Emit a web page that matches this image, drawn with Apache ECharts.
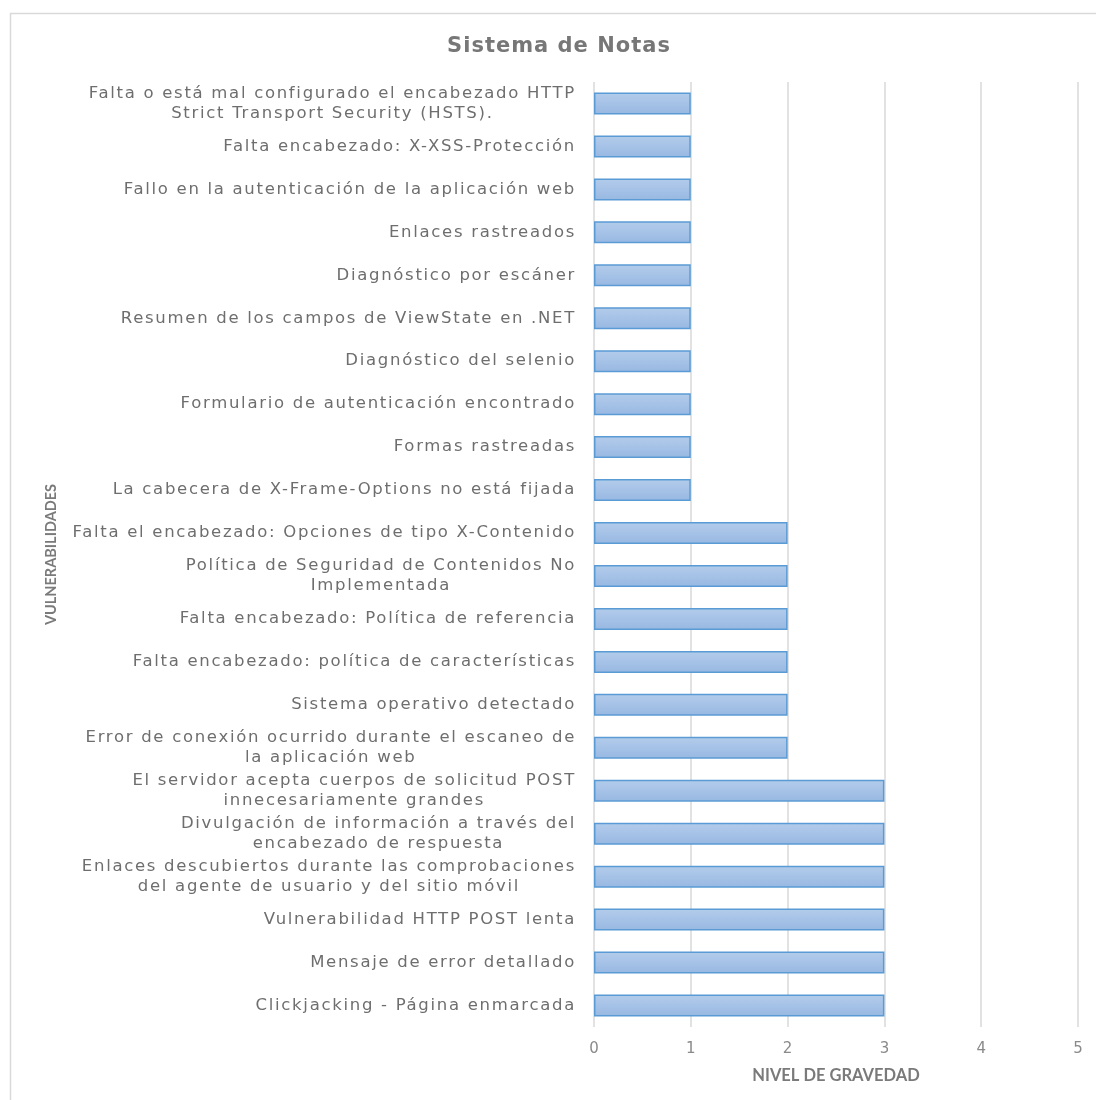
<!DOCTYPE html>
<html>
<head>
<meta charset="utf-8">
<style>
  html, body { margin: 0; padding: 0; background: #ffffff; }
  #chart { width: 1096px; height: 1100px; }
</style>
<script src="https://cdn.jsdelivr.net/npm/echarts@6/dist/echarts.min.js"></script>
</head>
<body>
<div id="chart"></div>
<script>
// Vulnerability names, listed top to bottom
const vulnerabilidades = [
  'Falta o está mal configurado el encabezado HTTP\nStrict Transport Security (HSTS).',
  'Falta encabezado: X-XSS-Protección',
  'Fallo en la autenticación de la aplicación web',
  'Enlaces rastreados',
  'Diagnóstico por escáner',
  'Resumen de los campos de ViewState en .NET',
  'Diagnóstico del selenio',
  'Formulario de autenticación encontrado',
  'Formas rastreadas',
  'La cabecera de X-Frame-Options no está fijada',
  'Falta el encabezado: Opciones de tipo X-Contenido',
  'Política de Seguridad de Contenidos No\nImplementada',
  'Falta encabezado: Política de referencia',
  'Falta encabezado: política de características',
  'Sistema operativo detectado',
  'Error de conexión ocurrido durante el escaneo de\nla aplicación web',
  'El servidor acepta cuerpos de solicitud POST\ninnecesariamente grandes',
  'Divulgación de información a través del\nencabezado de respuesta',
  'Enlaces descubiertos durante las comprobaciones\ndel agente de usuario y del sitio móvil',
  'Vulnerabilidad HTTP POST lenta',
  'Mensaje de error detallado',
  'Clickjacking - Página enmarcada'
];

// Severity level per vulnerability
const nivelGravedad = [1, 1, 1, 1, 1, 1, 1, 1, 1, 1, 2, 2, 2, 2, 2, 2, 3, 3, 3, 3, 3, 3];

const titulo = 'Sistema de Notas';
const nombreEjeX = 'NIVEL DE GRAVEDAD';
const nombreEjeY = 'VULNERABILIDADES';

const fuente = 'DejaVu Sans';
const fuenteEjes = 'Lato';
const tamCategoria = 16.5;
const tamTitulo = 21;

// Tracked-out text: category labels and title get extra letter spacing,
// applied whenever the canvas font is set (measuring and drawing alike).
(function () {
  const proto = CanvasRenderingContext2D.prototype;
  const desc = Object.getOwnPropertyDescriptor(proto, 'font');
  if (!desc || !('letterSpacing' in proto)) return;
  const espaciado = {};
  espaciado[tamCategoria] = '1.7px';
  espaciado[tamTitulo] = '1px';
  Object.defineProperty(proto, 'font', {
    configurable: true,
    get: function () { return desc.get.call(this); },
    set: function (v) {
      desc.set.call(this, v);
      const s = String(v);
      const m = s.match(/([\d.]+)px/);
      let sp = '0px';
      if (m && /DejaVu/.test(s) && espaciado[parseFloat(m[1])]) {
        sp = espaciado[parseFloat(m[1])];
      }
      this.letterSpacing = sp;
    }
  });
})();

const chart = echarts.init(document.getElementById('chart'), null, { renderer: 'canvas' });

const grisTexto = '#7a7a7a';

chart.setOption({
  backgroundColor: '#ffffff',
  animation: false,
  graphic: [{
    type: 'rect',
    shape: { x: 10.5, y: 13.5, width: 1100, height: 1100 },
    style: { fill: 'none', stroke: '#d9d9d9', lineWidth: 1.5 },
    silent: true,
    z: -1
  }],
  title: {
    text: titulo,
    left: 554,
    top: 31,
    textAlign: 'center',
    textStyle: {
      fontFamily: fuente,
      fontSize: tamTitulo,
      fontWeight: 'bold',
      color: '#777777'
    }
  },
  grid: {
    left: 594,
    right: 18,
    top: 82,
    bottom: 73,
    containLabel: false
  },
  xAxis: {
    type: 'value',
    min: 0,
    max: 5,
    interval: 1,
    name: nombreEjeX,
    nameLocation: 'middle',
    nameGap: 40,
    nameTextStyle: {
      fontFamily: fuenteEjes,
      fontSize: 16.5,
      fontWeight: 'bold',
      color: grisTexto
    },
    axisLine: { show: false },
    axisTick: { show: false },
    axisLabel: {
      margin: 15,
      fontFamily: fuente,
      fontSize: 15,
      color: '#8a8a8a'
    },
    splitLine: { show: true, lineStyle: { color: '#d9d9d9', width: 1.5 } }
  },
  yAxis: {
    type: 'category',
    inverse: true,
    data: vulnerabilidades,
    name: nombreEjeY,
    nameLocation: 'middle',
    nameGap: 535,
    nameRotate: 90,
    nameTextStyle: {
      fontFamily: fuenteEjes,
      fontSize: 14.5,
      fontWeight: 'bold',
      color: grisTexto
    },
    axisLine: { show: false },
    axisTick: { show: false },
    axisLabel: {
      margin: 18,
      interval: 0,
      formatter: function (v) {
        return v.split('\n').map(function (l) { return '{c|' + l + '}'; }).join('\n');
      },
      rich: {
        c: {
          align: 'center',
          fontFamily: fuente,
          fontSize: tamCategoria,
          lineHeight: 20,
          color: '#6e6e6e'
        }
      }
    }
  },
  series: [{
    type: 'bar',
    data: nivelGravedad,
    barWidth: 22,
    itemStyle: {
      color: new echarts.graphic.LinearGradient(0, 0, 0, 1, [
        { offset: 0, color: '#b3cceb' },
        { offset: 1, color: '#98b8e2' }
      ]),
      borderColor: '#5b9bd5',
      borderWidth: 1.5
    }
  }]
});
</script>
</body>
</html>
